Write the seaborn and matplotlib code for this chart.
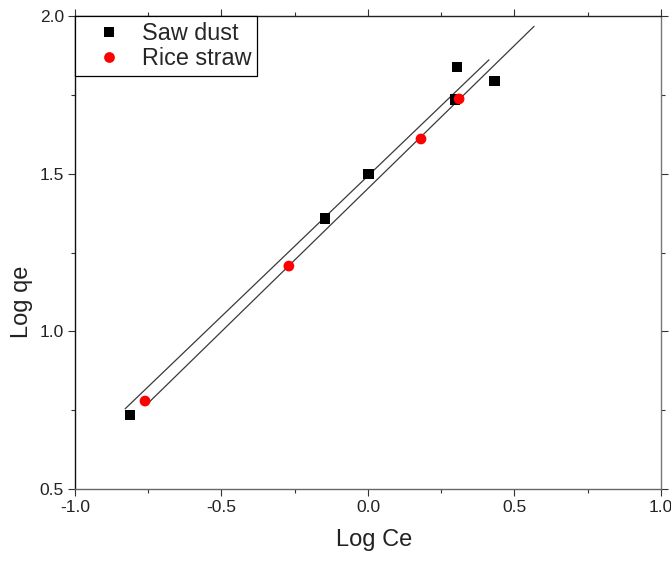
import numpy as np
import pandas as pd
import matplotlib
matplotlib.use("Agg")
import matplotlib.pyplot as plt
import seaborn as sns
from matplotlib.ticker import MultipleLocator

# ---- data ----
saw_x = [-0.812, -0.147, 0.003, 0.297, 0.304, 0.433]
saw_y = [0.735, 1.359, 1.499, 1.734, 1.838, 1.794]
rice_x = [-0.761, -0.270, 0.181, 0.311]
rice_y = [0.779, 1.207, 1.610, 1.737]

series_names = ["Saw dust", "Rice straw"]
# linear fits: slope, intercept, x-range
fit_slope = [0.891, 0.907]
fit_intercept = [1.493, 1.453]
fit_xmin = [-0.829, -0.758]
fit_xmax = [0.413, 0.567]

x_ticks = [-1.0, -0.5, 0.0, 0.5, 1.0]
y_ticks = [0.5, 1.0, 1.5, 2.0]

sns.set_theme(style="white")
plt.rcParams["font.family"] = ["Liberation Sans", "DejaVu Sans"]

fig = plt.figure(figsize=(6.71, 5.61), dpi=100)
ax = fig.add_axes([0.1118, 0.1283, 0.8732, 0.8432])

df = pd.DataFrame({
    "x": saw_x + rice_x,
    "y": saw_y + rice_y,
    "series": [series_names[0]] * len(saw_x) + [series_names[1]] * len(rice_x),
})

# fitted lines
fit_rows = []
for i in range(2):
    xs = np.array([fit_xmin[i], fit_xmax[i]])
    ys = fit_slope[i] * xs + fit_intercept[i]
    for a, b in zip(xs, ys):
        fit_rows.append({"x": a, "y": b, "fit": f"fit{i}"})
fit_df = pd.DataFrame(fit_rows)
sns.lineplot(data=fit_df, x="x", y="y", units="fit", estimator=None,
             color="#3a3a3a", linewidth=0.9, ax=ax, legend=False, zorder=2)

sns.scatterplot(data=df, x="x", y="y", hue="series", style="series",
                markers={"Saw dust": "s", "Rice straw": "o"},
                palette={"Saw dust": "black", "Rice straw": "#ff0000"},
                s=60, linewidth=0, ax=ax, zorder=3)

ax.set_xlim(-1.0, 1.0)
ax.set_ylim(0.5, 2.0)
ax.set_xticks(x_ticks)
ax.set_yticks(y_ticks)
ax.set_xticklabels([f"{v:.1f}" for v in x_ticks])
ax.set_yticklabels([f"{v:.1f}" for v in y_ticks])
ax.xaxis.set_minor_locator(MultipleLocator(0.25))
ax.yaxis.set_minor_locator(MultipleLocator(0.25))

ax.tick_params(axis="both", which="major", direction="out", length=5, width=0.8,
               labelsize=12.5, color="#333333", labelcolor="#222222", pad=3)
ax.tick_params(axis="both", which="minor", direction="out", length=3, width=0.8,
               color="#333333")
ax.tick_params(axis="x", which="both", bottom=True, top=True)
ax.tick_params(axis="y", which="both", left=True, right=True)

for side in ["left", "bottom", "right", "top"]:
    ax.spines[side].set_visible(True)
    ax.spines[side].set_linewidth(1.0)
ax.spines["left"].set_color("#111111")
ax.spines["bottom"].set_color("#666666")
ax.spines["right"].set_color("#777777")
ax.spines["top"].set_color("#222222")

ax.set_xlabel("Log Ce", fontsize=17, color="#222222")
ax.set_ylabel("Log qe", fontsize=17, color="#222222")
ax.xaxis.set_label_coords(0.51, -0.085)
ax.yaxis.set_label_coords(-0.072, 0.395)

leg = ax.legend(loc="upper left", bbox_to_anchor=(0.0, 1.0), borderaxespad=0,
                frameon=True, fancybox=False, edgecolor="black", framealpha=1,
                fontsize=16.8, handletextpad=0.2, borderpad=0.25,
                labelspacing=0.1, handlelength=2.4, markerscale=1.0)
leg.get_frame().set_linewidth(0.9)

fig.savefig("out.png", dpi=100)
